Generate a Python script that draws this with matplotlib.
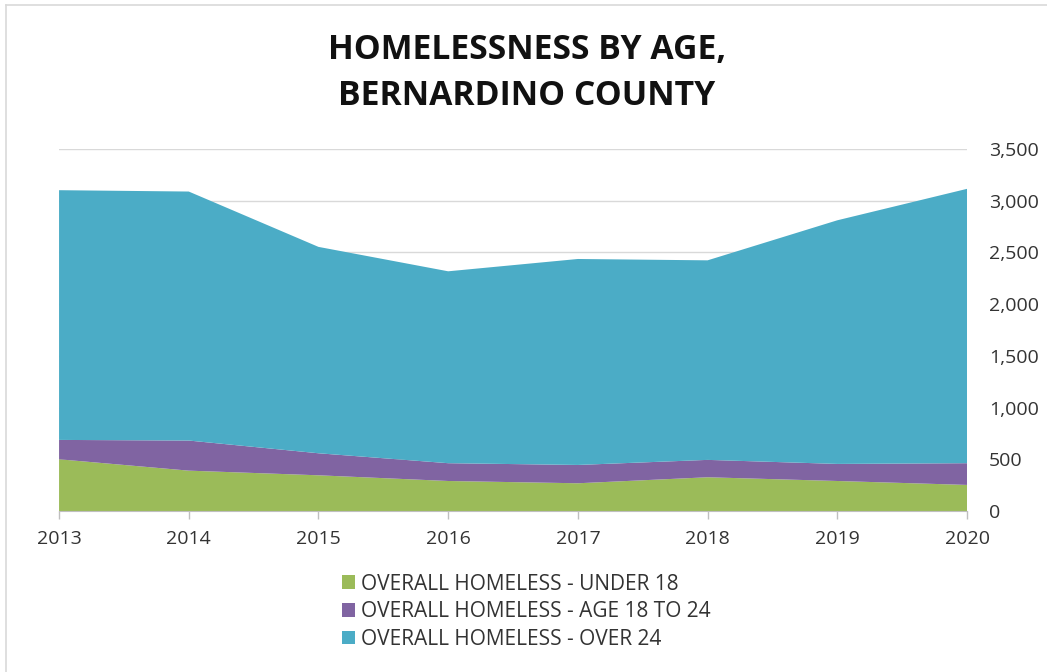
import numpy as np
import matplotlib.pyplot as plt
from matplotlib.patches import Patch
from matplotlib.lines import Line2D
from matplotlib.ticker import FuncFormatter

years = [2013, 2014, 2015, 2016, 2017, 2018, 2019, 2020]
under_18 = [500, 390, 345, 290, 268, 326, 290, 252]
age_18_24 = [187, 291, 213, 172, 177, 168, 165, 210]
over_24 = [2414, 2407, 1995, 1855, 1991, 1929, 2355, 2652]

labels = ['OVERALL HOMELESS - UNDER 18',
          'OVERALL HOMELESS - AGE 18 TO 24',
          'OVERALL HOMELESS - OVER 24']
colors = ['#9BBB59', '#8064A2', '#4BACC6']

plt.rcParams['font.family'] = ['Open Sans', 'DejaVu Sans']

fig = plt.figure(figsize=(10.47, 6.72), dpi=100)
ax = fig.add_axes([0.0564, 0.2396, 0.8672, 0.5388])

ax.stackplot(years, under_18, age_18_24, over_24, colors=colors, linewidth=0, zorder=2)

ax.set_xlim(2013, 2020)
ax.set_ylim(0, 3500)
ax.set_xticks(years)
ax.set_yticks(np.arange(0, 3501, 500))
ax.yaxis.set_major_formatter(FuncFormatter(lambda v, p: f'{int(v):,}'))
ax.yaxis.tick_right()
ax.tick_params(axis='y', length=0, pad=16, labelsize=14, colors='#333333')
ax.tick_params(axis='x', length=6, width=1, color='#BFBFBF', pad=8,
               labelsize=14, labelcolor='#333333')
ax.grid(axis='y', color='#D9D9D9', linewidth=1, zorder=0)
for side in ['top', 'left', 'right']:
    ax.spines[side].set_visible(False)
ax.spines['bottom'].set_color('#BFBFBF')
ax.spines['bottom'].set_zorder(3)

fig.text(0.503, 0.891, 'HOMELESSNESS BY AGE,\nBERNARDINO COUNTY', ha='center', va='center',
         fontsize=24.3, fontweight='bold', color='#111111', linespacing=1.47)

handles = [Patch(facecolor=c, edgecolor='none') for c in colors]
fig.legend(handles, labels, loc='upper left', bbox_to_anchor=(0.317, 0.162),
           frameon=False, fontsize=15, handlelength=0.62, handleheight=0.62,
           handletextpad=0.3, labelspacing=0.32, borderpad=0, labelcolor='#333333')

# thin chart-area border along the top and left edges
fig.add_artist(Line2D([6 / 1047, 6 / 1047], [0, 1 - 5 / 672], transform=fig.transFigure,
                      color='#D9D9D9', linewidth=1.2))
fig.add_artist(Line2D([6 / 1047, 1], [1 - 5 / 672, 1 - 5 / 672], transform=fig.transFigure,
                      color='#D9D9D9', linewidth=1.2))

fig.savefig('out.png', dpi=100)
